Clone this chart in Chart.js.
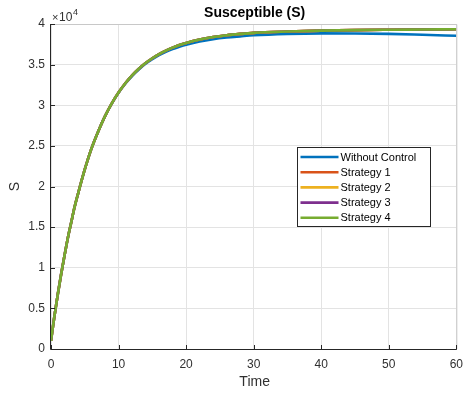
<!DOCTYPE html>
<html>
<head>
<meta charset="utf-8">
<script src="https://cdn.jsdelivr.net/npm/chart.js@4.4.1/dist/chart.umd.min.js"></script>
<style>
  html, body { margin: 0; padding: 0; background: #fff; }
  #wrap { width: 471px; height: 393px; position: relative; }
</style>
</head>
<body>
<div id="wrap"><canvas id="c"></canvas></div>
<script>
// Simulation time points (days)
const timeValues = [0, 0.5, 1, 1.5, 2, 2.5, 3, 3.5, 4, 5, 6, 7, 8, 9, 10, 11, 12, 13, 14, 15, 16, 17, 18, 19, 20, 22, 24, 26, 28, 30, 35, 40, 45, 50, 55, 60];

// Susceptible population, in units of 10^4
const withoutControl = [0.10, 0.40, 0.67, 0.92, 1.15, 1.37, 1.56, 1.75, 1.91, 2.21, 2.47, 2.68, 2.866, 3.02, 3.153, 3.265, 3.36, 3.44, 3.51, 3.567, 3.616, 3.657, 3.692, 3.72, 3.745, 3.785, 3.813, 3.833, 3.848, 3.862, 3.879, 3.885, 3.884, 3.878, 3.867, 3.855];
const strategy1 = [0.10, 0.40, 0.67, 0.92, 1.15, 1.37, 1.56, 1.75, 1.91, 2.21, 2.47, 2.68, 2.866, 3.023, 3.156, 3.27, 3.367, 3.449, 3.519, 3.578, 3.629, 3.672, 3.709, 3.741, 3.767, 3.809, 3.84, 3.862, 3.878, 3.891, 3.907, 3.918, 3.925, 3.929, 3.932, 3.935];
const strategy2 = [0.10, 0.40, 0.67, 0.92, 1.15, 1.37, 1.56, 1.75, 1.91, 2.21, 2.47, 2.68, 2.866, 3.023, 3.156, 3.27, 3.367, 3.449, 3.519, 3.578, 3.629, 3.672, 3.709, 3.741, 3.767, 3.809, 3.84, 3.862, 3.878, 3.891, 3.907, 3.918, 3.925, 3.929, 3.932, 3.935];
const strategy3 = [0.10, 0.40, 0.67, 0.92, 1.15, 1.37, 1.56, 1.75, 1.91, 2.21, 2.47, 2.68, 2.866, 3.023, 3.156, 3.27, 3.367, 3.449, 3.519, 3.578, 3.629, 3.672, 3.709, 3.741, 3.767, 3.809, 3.84, 3.862, 3.878, 3.891, 3.907, 3.918, 3.925, 3.929, 3.932, 3.935];
const strategy4 = [0.10, 0.40, 0.67, 0.92, 1.15, 1.37, 1.56, 1.75, 1.91, 2.21, 2.47, 2.68, 2.866, 3.023, 3.156, 3.27, 3.367, 3.449, 3.519, 3.578, 3.629, 3.672, 3.709, 3.741, 3.767, 3.809, 3.84, 3.862, 3.878, 3.891, 3.907, 3.918, 3.925, 3.929, 3.932, 3.935];

const seriesNames = ['Without Control', 'Strategy 1', 'Strategy 2', 'Strategy 3', 'Strategy 4'];
const seriesColors = ['#0072BD', '#D95319', '#EDB120', '#7E2F8E', '#77AC30'];
const seriesValues = [withoutControl, strategy1, strategy2, strategy3, strategy4];

const xTicks = [0, 10, 20, 30, 40, 50, 60];
const yTicks = [0, 0.5, 1, 1.5, 2, 2.5, 3, 3.5, 4];

const FONT = '"Liberation Sans", Arial, Helvetica, sans-serif';
const TEXT = '#303030';
const AXIS = '#262626';
const GRID = '#e3e3e3';

// later series are plotted over earlier ones
const datasets = seriesValues.map((vals, i) => ({
  label: seriesNames[i],
  data: timeValues.map((t, k) => ({ x: t, y: vals[k] })),
  borderColor: seriesColors[i],
  backgroundColor: seriesColors[i],
  borderWidth: 2.6,
  pointRadius: 0,
  fill: false,
  order: seriesValues.length - i,
  cubicInterpolationMode: 'monotone'
}));

// Axes box, inward tick marks, exponent, titles and the inset legend
const decorations = {
  id: 'decorations',
  afterDatasetsDraw(chart) {
    const { ctx, chartArea: a, scales } = chart;
    const x = scales.x, y = scales.y;
    ctx.save();
    // light top/right box edges
    ctx.strokeStyle = '#c8c8c8';
    ctx.lineWidth = 1;
    ctx.beginPath();
    ctx.moveTo(a.left, a.top + 0.5); ctx.lineTo(a.right + 0.5, a.top + 0.5);
    ctx.lineTo(a.right + 0.5, a.bottom);
    ctx.stroke();
    // left and bottom axes
    ctx.strokeStyle = AXIS;
    ctx.beginPath();
    ctx.moveTo(a.left - 0.5, a.top); ctx.lineTo(a.left - 0.5, a.bottom + 0.5);
    ctx.lineTo(a.right + 0.5, a.bottom + 0.5);
    ctx.stroke();
    // inward ticks
    ctx.beginPath();
    xTicks.forEach(v => {
      const px = Math.round(x.getPixelForValue(v)) + 0.5;
      ctx.moveTo(px, a.bottom); ctx.lineTo(px, a.bottom - 4);
    });
    yTicks.forEach(v => {
      const py = Math.round(y.getPixelForValue(v)) + 0.5;
      ctx.moveTo(a.left, py); ctx.lineTo(a.left + 4, py);
    });
    ctx.stroke();

    ctx.fillStyle = TEXT;
    // exponent marker
    ctx.textBaseline = 'alphabetic';
    ctx.textAlign = 'left';
    ctx.font = '11px ' + FONT;
    ctx.fillText('\u00d7', a.left + 1, a.top - 3);
    ctx.font = '12px ' + FONT;
    ctx.fillText('10', a.left + 8, a.top - 3);
    ctx.font = '9px ' + FONT;
    ctx.fillText('4', a.left + 22, a.top - 9);

    // title
    ctx.font = 'bold 14px ' + FONT;
    ctx.textAlign = 'center';
    ctx.textBaseline = 'middle';
    ctx.fillStyle = '#000';
    ctx.fillText('Susceptible (S)', (a.left + a.right) / 2 + 1, 13);

    // axis titles
    ctx.fillStyle = TEXT;
    ctx.font = '14px ' + FONT;
    ctx.fillText('Time', (a.left + a.right) / 2 + 1, 382);
    ctx.save();
    ctx.translate(15, (a.top + a.bottom) / 2);
    ctx.rotate(-Math.PI / 2);
    ctx.fillText('S', 0, 0);
    ctx.restore();

    // legend
    const lx = 297.5, ly = 147.5, lw = 133, lh = 79;
    ctx.fillStyle = '#fff';
    ctx.fillRect(lx, ly, lw, lh);
    ctx.strokeStyle = '#262626';
    ctx.lineWidth = 1;
    ctx.strokeRect(lx, ly, lw, lh);
    ctx.font = '11px ' + FONT;
    ctx.textAlign = 'left';
    ctx.textBaseline = 'middle';
    chart.data.datasets.forEach((ds, i) => {
      const rowY = ly + 9.5 + i * 15.2;
      ctx.strokeStyle = ds.borderColor;
      ctx.lineWidth = 2.6;
      ctx.beginPath();
      ctx.moveTo(lx + 3, rowY); ctx.lineTo(lx + 41, rowY);
      ctx.stroke();
      ctx.fillStyle = '#000';
      ctx.fillText(ds.label, lx + 43, rowY + 0.5);
    });
    ctx.restore();
  }
};

new Chart(document.getElementById('c'), {
  type: 'line',
  data: { datasets },
  options: {
    responsive: true,
    maintainAspectRatio: false,
    animation: false,
    layout: { padding: { top: 24, right: 8, left: 0, bottom: 0 } },
    plugins: {
      legend: { display: false },
      title: { display: false },
      tooltip: { enabled: false }
    },
    scales: {
      x: {
        type: 'linear',
        min: 0, max: 60,
        afterBuildTicks: s => { s.ticks = xTicks.map(v => ({ value: v })); },
        afterFit: s => { s.height = 44; },
        grid: { color: GRID, drawTicks: false },
        border: { display: false },
        ticks: { color: TEXT, font: { family: FONT, size: 12 }, padding: 8, maxRotation: 0, callback: v => String(v) }
      },
      y: {
        type: 'linear',
        min: 0, max: 4,
        afterBuildTicks: s => { s.ticks = yTicks.map(v => ({ value: v })); },
        afterFit: s => { s.width = 51; },
        grid: { color: GRID, drawTicks: false },
        border: { display: false },
        ticks: { color: TEXT, font: { family: FONT, size: 12 }, padding: 6, callback: v => String(v) }
      }
    }
  },
  plugins: [decorations]
});
</script>
</body>
</html>
